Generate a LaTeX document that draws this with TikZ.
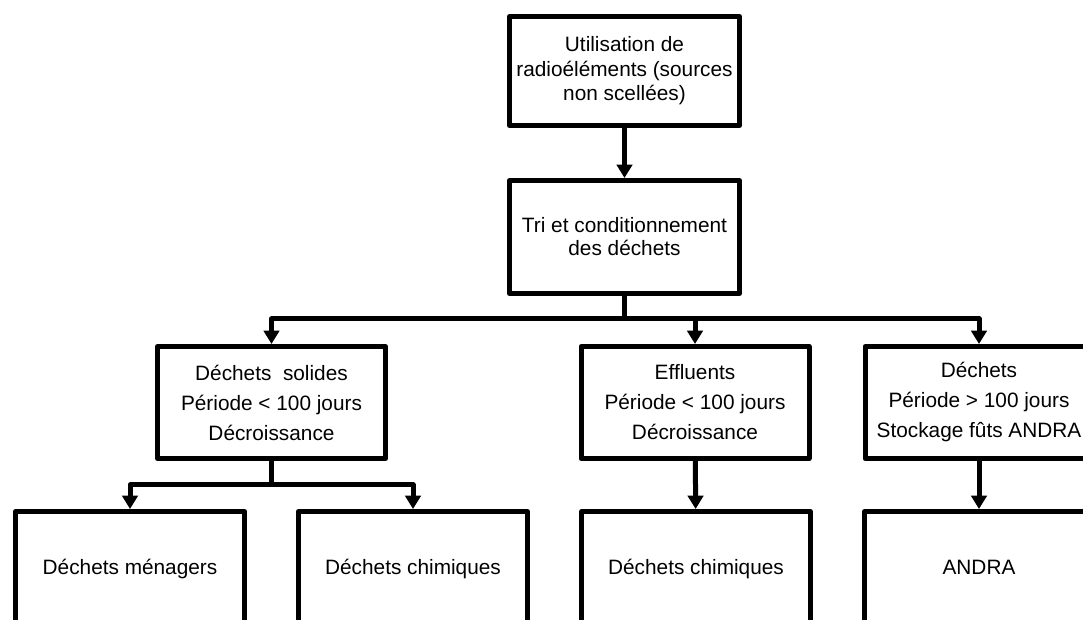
\documentclass[tikz,border=0pt]{standalone}
\usepackage{fontspec}
\setmainfont{Liberation Sans}
\usetikzlibrary{arrows.meta}
\usetikzlibrary{positioning}

\begin{document}
\begin{tikzpicture}[x=0.75pt,y=-0.75pt,every node/.style={draw,line width=3.75pt,line join=round,align=center,inner sep=0pt,font=\fontsize{15.6}{18.4}\selectfont},
  wide/.style={font=\fontsize{15.6}{22.5}\selectfont,minimum width=171pt,minimum height=84pt},
  low/.style={minimum width=171.75pt,minimum height=84.75pt,text height=10.5pt,text depth=0pt},
  link/.style={line width=3.75pt,line join=round},
  arr/.style={link,-{Triangle[length=10pt,width=11.5pt]}}]
  \useasboundingbox (0,0) rectangle (1083,620);
  \clip (0,0) rectangle (1083,620);
  \node (use) at (624.5,71)[minimum width=172.5pt,minimum height=81.75pt]{Utilisation de\\radioéléments (sources\\non scellées)};
  \node[below=37.5pt of use,minimum width=172.5pt,minimum height=84.75pt,font=\fontsize{15.6}{17.3}\selectfont](tri){Tri et conditionnement\\des déchets};

  \node (solid) at (271.5,402.5)[wide]{Déchets~~solides\\Période < 100 jours\\Décroissance};
  \node (effl) at (695,402.5)[wide]{Effluents\\Période < 100 jours\\Décroissance};
  \node (stock) at (979,402.5)[wide]{Déchets\\Période > 100 jours\\Stockage fûts ANDRA};

  \node (men) at (130,568)[low]{Déchets ménagers};
  \node[right=36.75pt of men,low](chim){Déchets chimiques};
  \node (chimb) at (696,568)[low]{Déchets chimiques};
  \node (andra) at (979,568)[low]{ANDRA};

  \coordinate (s1) at (624.5,319);
  \coordinate (s2) at (271.5,485);
  \draw[arr](use)--(tri);
  \draw[link](tri)--(s1);
  \draw[arr](s1)-|(solid);
  \draw[arr](s1)-|(stock);
  \draw[arr](s1 -| effl)--(effl);
  \draw[link](solid)--(s2);
  \draw[arr](s2)-|(men);
  \draw[arr](s2)-|(chim);
  \draw[arr](effl)--(chimb);
  \draw[arr](stock)--(andra);
\end{tikzpicture}
\end{document}
